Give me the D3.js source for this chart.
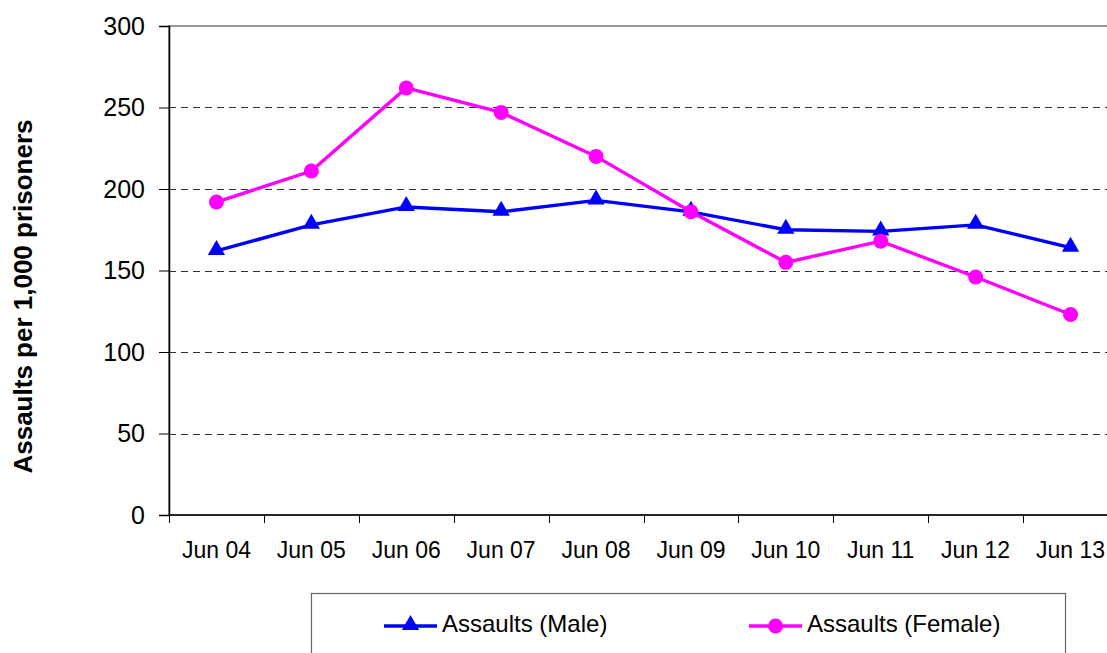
<!DOCTYPE html>
<html>
<head>
<meta charset="utf-8">
<script src="https://cdn.jsdelivr.net/npm/d3@7"></script>
<style>
  body { margin: 0; background: #fff; }
  svg { display: block; font-family: "Liberation Sans", Arial, sans-serif; }
</style>
</head>
<body>
<div id="chart"></div>
<script>
// data
const years = ["Jun 04", "Jun 05", "Jun 06", "Jun 07", "Jun 08", "Jun 09", "Jun 10", "Jun 11", "Jun 12", "Jun 13"];
const male = [162, 178, 189, 186, 193, 186, 175, 174, 178, 164];
const female = [192, 211, 262, 247, 220, 186, 155, 168, 146, 123];
const yTicks = [0, 50, 100, 150, 200, 250, 300];

const W = 1107, H = 653;
const margin = { top: 26, left: 169, bottom: 138 };
const plotRight = 1118; // plot runs past the window edge, as in the reference
const height = H - margin.top - margin.bottom;

const svg = d3.select("#chart").append("svg")
  .attr("width", W)
  .attr("height", H);

const x = d3.scaleBand()
  .domain(years)
  .range([margin.left, plotRight]);

const y = d3.scaleLinear()
  .domain([0, 300])
  .range([margin.top + height, margin.top]);

// plot border (grey top / right)
svg.append("rect")
  .attr("x", margin.left)
  .attr("y", y(300))
  .attr("width", plotRight - margin.left)
  .attr("height", y(0) - y(300))
  .attr("fill", "none")
  .attr("stroke", "#999")
  .attr("stroke-width", 2);

// dashed gridlines
svg.append("g")
  .selectAll("line")
  .data(yTicks.filter(d => d > 0 && d < 300))
  .join("line")
  .attr("x1", margin.left)
  .attr("x2", plotRight)
  .attr("y1", d => Math.round(y(d)) + 0.5)
  .attr("y2", d => Math.round(y(d)) + 0.5)
  .attr("stroke", "#333")
  .attr("stroke-dasharray", "7,5");

// y axis
const yAxis = svg.append("g")
  .attr("transform", "translate(" + margin.left + ",0)")
  .call(d3.axisLeft(y).tickValues(yTicks).tickSize(10).tickPadding(14));
yAxis.select(".domain").attr("stroke", "#000").attr("stroke-width", 1.5);
yAxis.selectAll(".tick line").attr("stroke", "#000");
yAxis.selectAll(".tick text")
  .attr("font-size", 25)
  .attr("font-family", "Liberation Sans, Arial, sans-serif")
  .attr("fill", "#000");

// x axis: ticks on category boundaries
const xAxisG = svg.append("g")
  .attr("transform", "translate(0," + y(0) + ")");
xAxisG.append("line")
  .attr("x1", margin.left)
  .attr("x2", plotRight)
  .attr("stroke", "#000")
  .attr("stroke-width", 1.5);
xAxisG.selectAll("line.tk")
  .data(years)
  .join("line")
  .attr("class", "tk")
  .attr("x1", d => Math.round(x(d)) + 0.5)
  .attr("x2", d => Math.round(x(d)) + 0.5)
  .attr("y1", 0)
  .attr("y2", 8)
  .attr("stroke", "#000");
xAxisG.selectAll("text")
  .data(years)
  .join("text")
  .attr("x", d => x(d) + x.bandwidth() / 2)
  .attr("y", 43)
  .attr("text-anchor", "middle")
  .attr("font-size", 23)
  .attr("fill", "#000")
  .text(d => d);

// y axis title
svg.append("text")
  .attr("transform", "translate(32," + (margin.top + height / 2 + 26) + ") rotate(-90)")
  .attr("text-anchor", "middle")
  .attr("font-size", 26)
  .attr("font-weight", "bold")
  .text("Assaults per 1,000 prisoners");

const cx = (d, i) => x(years[i]) + x.bandwidth() / 2;
const line = d3.line()
  .x((d, i) => cx(d, i))
  .y(d => y(d));

const tri = d3.symbol().type(d3.symbolTriangle).size(130);

// male series
svg.append("path")
  .datum(male)
  .attr("d", line)
  .attr("fill", "none")
  .attr("stroke", "#0000ff")
  .attr("stroke-width", 3.4);
svg.append("g")
  .selectAll("path")
  .data(male)
  .join("path")
  .attr("d", tri)
  .attr("transform", (d, i) => "translate(" + cx(d, i) + "," + (y(d) - 1) + ")")
  .attr("fill", "#0000ff");

// female series
svg.append("path")
  .datum(female)
  .attr("d", line)
  .attr("fill", "none")
  .attr("stroke", "#ff00ff")
  .attr("stroke-width", 3.4);
svg.append("g")
  .selectAll("circle")
  .data(female)
  .join("circle")
  .attr("cx", (d, i) => cx(d, i))
  .attr("cy", d => y(d))
  .attr("r", 7.5)
  .attr("fill", "#ff00ff");

// legend
const legend = svg.append("g");
legend.append("rect")
  .attr("x", 311.5)
  .attr("y", 593.5)
  .attr("width", 754)
  .attr("height", 80)
  .attr("fill", "#fff")
  .attr("stroke", "#666")
  .attr("stroke-width", 1.2);

const items = [
  { name: "Assaults (Male)", color: "#0000ff", x0: 384, marker: "tri" },
  { name: "Assaults (Female)", color: "#ff00ff", x0: 749, marker: "circle" }
];
const ly = 626;
items.forEach(it => {
  legend.append("line")
    .attr("x1", it.x0).attr("x2", it.x0 + 53)
    .attr("y1", ly).attr("y2", ly)
    .attr("stroke", it.color)
    .attr("stroke-width", 3.4);
  if (it.marker === "tri") {
    legend.append("path")
      .attr("d", tri)
      .attr("transform", "translate(" + (it.x0 + 26.5) + "," + (ly - 1) + ")")
      .attr("fill", it.color);
  } else {
    legend.append("circle")
      .attr("cx", it.x0 + 26.5).attr("cy", ly).attr("r", 7.5)
      .attr("fill", it.color);
  }
  legend.append("text")
    .attr("x", it.x0 + 58)
    .attr("y", ly + 6)
    .attr("font-size", 24)
    .attr("fill", "#000")
    .text(it.name);
});
</script>
</body>
</html>
